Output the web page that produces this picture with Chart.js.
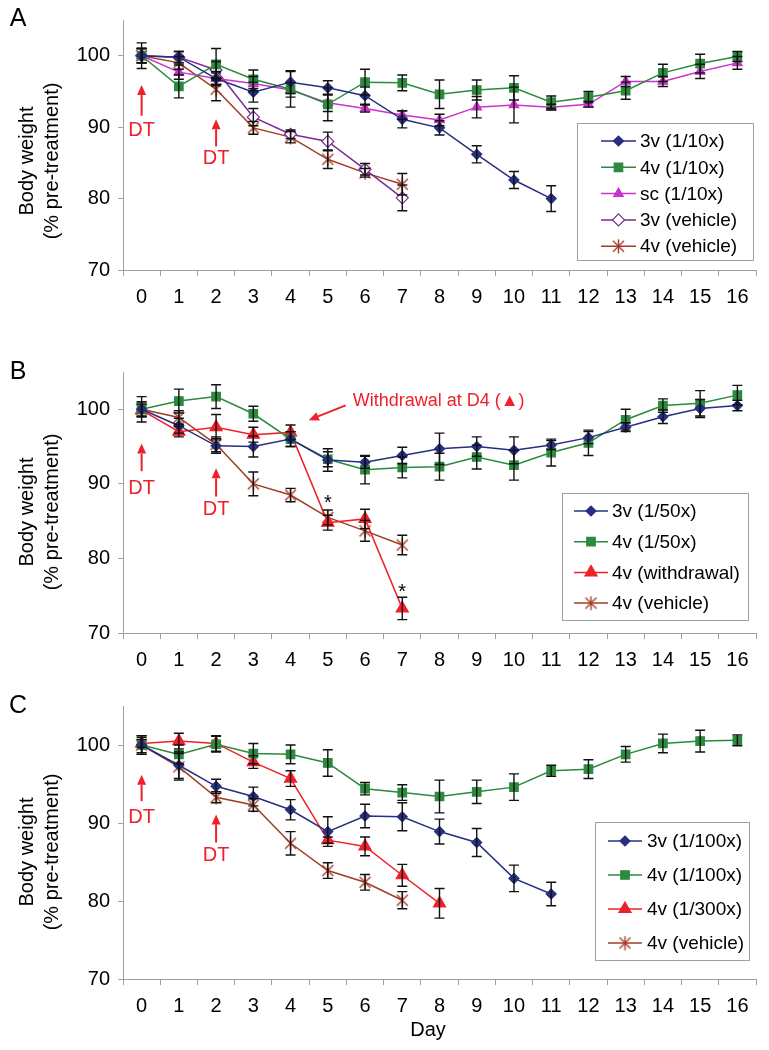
<!DOCTYPE html>
<html>
<head>
<meta charset="utf-8">
<script src="https://cdn.jsdelivr.net/npm/chart.js@4.4.1/dist/chart.umd.min.js"></script>
<style>
  body { margin: 0; background: #fff; width: 769px; height: 1050px; position: relative; overflow: hidden; }
  .panel { position: absolute; left: 0; width: 769px; }
</style>
</head>
<body>
<div class="panel" style="top:0;height:330px"><canvas id="panelA" width="769" height="330"></canvas></div>
<div class="panel" style="top:340px;height:340px"><canvas id="panelB" width="769" height="340"></canvas></div>
<div class="panel" style="top:680px;height:370px"><canvas id="panelC" width="769" height="370"></canvas></div>
<script>
// ---- data ----
const days = ['0','1','2','3','4','5','6','7','8','9','10','11','12','13','14','15','16'];
const yTicks = [70, 80, 90, 100];

// Panel A
const a3v10     = [100, 99.8, 96.8, 94.9, 96.3, 95.5, 94.4, 91.1, 89.9, 86.2, 82.6, 80.0];
const a3v10Err  = [1.8, 0.8, 0.8, 1.4, 1.6, 1.0, 1.2, 1.2, 1.0, 1.2, 1.2, 1.8];
const a4v10     = [100, 95.7, 98.8, 96.7, 95.3, 93.2, 96.3, 96.2, 94.6, 95.2, 95.5, 93.5, 94.2, 95.1, 97.6, 98.9, 99.9];
const a4v10Err  = [1.0, 1.6, 2.2, 1.3, 2.5, 2.3, 1.8, 1.1, 2.0, 1.4, 1.7, 0.85, 0.8, 1.2, 1.2, 1.3, 0.7];
const aSc10     = [100, 97.7, 96.8, 96.1, 95.2, 93.4, 92.6, 91.7, 91.0, 92.8, 93.1, 92.8, 93.2, 96.4, 96.4, 97.8, 99.0];
const aSc10Err  = [1.0, 1.0, 1.0, 1.0, 1.0, 1.2, 0.5, 0.6, 0.8, 1.5, 2.5, 0.4, 0.4, 0.7, 0.7, 1.0, 0.9];
const a3vVeh    = [100, 99.8, 98.0, 91.4, 89.0, 88.0, 84.1, 80.1];
const a3vVehErr = [1.0, 0.8, 1.2, 1.2, 0.6, 1.3, 0.8, 1.8];
const a4vVeh    = [100, 99.0, 95.3, 89.9, 88.6, 85.5, 83.6, 82.0];
const a4vVehErr = [1.0, 0.9, 1.6, 0.9, 0.8, 1.3, 0.6, 1.5];

// Panel B
const b3v50       = [100, 97.8, 95.1, 95.0, 96.0, 93.2, 92.9, 93.8, 94.7, 95.0, 94.5, 95.2, 96.2, 97.6, 99.0, 100.1, 100.5];
const b3v50Err    = [1.7, 1.0, 1.0, 1.4, 1.0, 1.5, 0.8, 1.1, 2.1, 1.3, 1.8, 0.6, 0.8, 0.6, 0.9, 1.2, 0.7];
const b4v50       = [100, 101.1, 101.7, 99.4, 96.0, 93.3, 91.9, 92.2, 92.3, 93.6, 92.5, 94.2, 95.5, 98.6, 100.5, 100.8, 101.9];
const b4v50Err    = [1.0, 1.6, 1.6, 1.0, 1.0, 1.0, 1.9, 1.4, 1.8, 1.6, 2.0, 1.8, 1.7, 1.4, 0.9, 1.7, 1.3];
const bWithdraw   = [99.9, 97.0, 97.6, 96.6, 96.9, 84.8, 85.3, 73.3];
const bWithdrawErr= [0.8, 0.7, 1.7, 1.0, 1.0, 1.0, 1.3, 1.5];
const bVeh        = [100, 98.9, 95.3, 90.0, 88.5, 85.5, 83.7, 81.8];
const bVehErr     = [1.0, 0.9, 1.0, 1.6, 0.9, 1.0, 1.4, 1.3];

// Panel C
const c3v100    = [100, 97.4, 94.7, 93.4, 91.7, 88.9, 90.9, 90.8, 88.9, 87.5, 82.9, 80.9];
const c3v100Err = [1.2, 1.7, 0.9, 1.2, 1.3, 1.9, 1.5, 1.8, 1.6, 1.8, 1.7, 1.5];
const c4v100    = [100, 98.8, 100.1, 98.9, 98.8, 97.7, 94.4, 93.9, 93.4, 94.0, 94.6, 96.7, 96.9, 98.8, 100.2, 100.5, 100.6];
const c4v100Err = [1.2, 1.2, 1.0, 1.3, 1.2, 1.7, 0.8, 1.0, 2.1, 1.5, 1.7, 0.7, 1.2, 1.0, 1.2, 1.4, 0.7];
const c4v300    = [100.2, 100.5, 100.2, 97.8, 95.7, 87.8, 87.0, 83.3, 79.7];
const c4v300Err = [0.5, 1.0, 1.0, 0.8, 1.0, 0.4, 1.2, 1.4, 1.9];
const cVeh      = [100, 97.2, 93.3, 92.3, 87.4, 83.9, 82.4, 80.1];
const cVehErr   = [1.0, 1.7, 0.7, 0.8, 1.5, 1.0, 1.0, 1.1];

// ---- styling ----
const FONT = '"Liberation Sans", Arial, sans-serif';
const NAVY = '#262f80', GREEN = '#2b8a3e', MAGENTA = '#cc33cc', PURPLE = '#7a2b96', BROWN = '#a23c25', RED = '#f0202a';
const AXIS = '#a0a0a0';

// Excel-style star marker: an X with a vertical stroke
function starMark(color) {
  const c = document.createElement('canvas');
  c.width = c.height = 15;
  const g = c.getContext('2d');
  g.strokeStyle = color; g.lineWidth = 1.4;
  g.beginPath();
  g.moveTo(2, 2); g.lineTo(13, 13);
  g.moveTo(13, 2); g.lineTo(2, 13);
  g.moveTo(7.5, 0.5); g.lineTo(7.5, 14.5);
  g.stroke();
  return c;
}
const brownStar = starMark(BROWN);

function series(label, data, errors, color, style, radius, fill) {
  return {
    label, data, errors,
    borderColor: color, backgroundColor: color, borderWidth: 1.5,
    pointStyle: style, pointRadius: radius, pointHoverRadius: radius,
    pointBackgroundColor: fill || color, pointBorderColor: color, pointBorderWidth: 1.2,
    tension: 0, spanGaps: false
  };
}

function arrow(ctx, x0, y0, x1, y1) {
  const ang = Math.atan2(y1 - y0, x1 - x0), len = 10, hw = 4.5;
  const bx = x1 - Math.cos(ang) * len, by = y1 - Math.sin(ang) * len;
  ctx.beginPath(); ctx.moveTo(x0, y0); ctx.lineTo(bx, by); ctx.stroke();
  ctx.beginPath();
  ctx.moveTo(x1, y1);
  ctx.lineTo(bx - Math.sin(ang) * hw, by + Math.cos(ang) * hw);
  ctx.lineTo(bx + Math.sin(ang) * hw, by - Math.cos(ang) * hw);
  ctx.closePath(); ctx.fill();
}

function decor(p) {
  return {
    id: 'decor',
    afterDatasetsDraw(chart) {
      // error bars
      const { ctx, scales: { y } } = chart;
      ctx.save();
      ctx.strokeStyle = '#111'; ctx.lineWidth = 1.4;
      chart.data.datasets.forEach((ds, i) => {
        chart.getDatasetMeta(i).data.forEach((pt, j) => {
          const v = ds.data[j], e = ds.errors[j];
          if (v == null || e == null) return;
          const t = y.getPixelForValue(v + e), b = y.getPixelForValue(v - e);
          ctx.beginPath();
          ctx.moveTo(pt.x, t); ctx.lineTo(pt.x, b);
          ctx.moveTo(pt.x - 5, t); ctx.lineTo(pt.x + 5, t);
          ctx.moveTo(pt.x - 5, b); ctx.lineTo(pt.x + 5, b);
          ctx.stroke();
        });
      });
      ctx.restore();
    },
    afterDraw(chart) {
      const { ctx, scales: { x, y } } = chart;
      ctx.save();
      ctx.fillStyle = '#000';
      ctx.textAlign = 'center'; ctx.textBaseline = 'middle';
      ctx.font = '25px ' + FONT;
      ctx.fillText(p.letter, 18, p.letterY);

      ctx.font = '20px ' + FONT;
      [['Body weight', 27], ['(% pre-treatment)', 52]].forEach(([t, tx]) => {
        ctx.save(); ctx.translate(tx, p.titleY); ctx.rotate(-Math.PI / 2);
        ctx.fillText(t, 0, 0); ctx.restore();
      });
      if (p.xTitle) ctx.fillText(p.xTitle.text, p.xTitle.x, p.xTitle.y);

      // DT arrows
      ctx.fillStyle = RED; ctx.strokeStyle = RED; ctx.lineWidth = 2;
      p.dt.forEach(d => {
        const px = x.getPixelForValue(d.day);
        arrow(ctx, px, y.getPixelForValue(d.tail), px, y.getPixelForValue(d.tip));
        ctx.fillText('DT', px, y.getPixelForValue(d.text));
      });
      if (p.note) {
        const n = p.note;
        ctx.font = '18px ' + FONT; ctx.textAlign = 'left';
        ctx.fillText(n.text, x.getPixelForValue(n.day), y.getPixelForValue(n.value));
        arrow(ctx, x.getPixelForValue(n.from[0]), y.getPixelForValue(n.from[1]),
                   x.getPixelForValue(n.to[0]), y.getPixelForValue(n.to[1]));
      }
      if (p.stars) {
        ctx.fillStyle = '#000'; ctx.font = '20px ' + FONT; ctx.textAlign = 'center'; ctx.textBaseline = 'alphabetic';
        p.stars.forEach(s => ctx.fillText('*', x.getPixelForValue(s.day), y.getPixelForValue(s.value) + 11));
      }

      // legend box
      const L = p.legend;
      ctx.strokeStyle = AXIS; ctx.lineWidth = 1;
      ctx.strokeRect(L.x + 0.5, L.y + 0.5, L.w, L.h);
      ctx.font = '19px ' + FONT; ctx.textAlign = 'left'; ctx.textBaseline = 'middle';
      chart.data.datasets.forEach((ds, i) => {
        const ry = L.y0 + i * L.dy;
        ctx.strokeStyle = ds.borderColor; ctx.lineWidth = 1.5;
        ctx.beginPath(); ctx.moveTo(L.lx0, ry); ctx.lineTo(L.lx1, ry); ctx.stroke();
        ctx.fillStyle = ds.pointBackgroundColor; ctx.strokeStyle = ds.pointBorderColor; ctx.lineWidth = ds.pointBorderWidth;
        Chart.helpers.drawPoint(ctx, { pointStyle: ds.pointStyle, radius: ds.pointRadius, rotation: 0, borderWidth: ds.pointBorderWidth },
          (L.lx0 + L.lx1) / 2, ry);
        ctx.fillStyle = '#000';
        ctx.fillText(ds.label, L.tx, ry + 1);
      });
      ctx.restore();
    }
  };
}

function makePanel(id, datasets, p) {
  return new Chart(document.getElementById(id), {
    type: 'line',
    data: { labels: days, datasets },
    options: {
      responsive: false, animation: false, devicePixelRatio: 1,
      layout: { padding: { top: p.padTop, left: 0, right: 13, bottom: 0 } },
      plugins: { legend: { display: false }, tooltip: { enabled: false } },
      scales: {
        x: {
          type: 'category', offset: true,
          grid: { offset: true, drawOnChartArea: false, tickLength: 6, color: AXIS },
          border: { color: AXIS },
          ticks: { color: '#000', font: { family: FONT, size: 20 }, padding: 9, autoSkip: false, maxRotation: 0 },
          afterFit: s => { s.height = p.xHeight; }
        },
        y: {
          min: 70, max: 105,
          grid: { drawOnChartArea: false, tickLength: 5, color: AXIS },
          border: { color: AXIS },
          ticks: { color: '#000', font: { family: FONT, size: 20 }, padding: 8 },
          afterBuildTicks: s => { s.ticks = yTicks.map(v => ({ value: v })); },
          afterFit: s => { s.width = 123; }
        }
      }
    },
    plugins: [decor(p)]
  });
}

makePanel('panelA', [
  series('3v (1/10x)', a3v10, a3v10Err, NAVY, 'rectRot', 5),
  series('4v (1/10x)', a4v10, a4v10Err, GREEN, 'rect', 6),
  series('sc (1/10x)', aSc10, aSc10Err, MAGENTA, 'triangle', 5.5),
  series('3v (vehicle)', a3vVeh, a3vVehErr, PURPLE, 'rectRot', 6, '#ffffff'),
  series('4v (vehicle)', a4vVeh, a4vVehErr, BROWN, brownStar, 6)
], {
  letter: 'A', letterY: 19, titleY: 161, padTop: 8, xHeight: 60,
  dt: [{ day: 0, tip: 95.9, tail: 91.6, text: 89.5 }, { day: 2, tip: 91.1, tail: 87.3, text: 85.6 }],
  legend: { x: 577, y: 123, w: 176, h: 137, y0: 141, dy: 26.3, lx0: 601, lx1: 636, tx: 640 }
});

makePanel('panelB', [
  series('3v (1/50x)', b3v50, b3v50Err, NAVY, 'rectRot', 5),
  series('4v (1/50x)', b4v50, b4v50Err, GREEN, 'rect', 6),
  series('4v (withdrawal)', bWithdraw, bWithdrawErr, RED, 'triangle', 7),
  series('4v (vehicle)', bVeh, bVehErr, BROWN, brownStar, 6)
], {
  letter: 'B', letterY: 32, titleY: 172, padTop: 32, xHeight: 47,
  dt: [{ day: 0, tip: 95.4, tail: 91.7, text: 89.4 }, { day: 2, tip: 92.1, tail: 88.3, text: 86.6 }],
  note: { text: 'Withdrawal at D4 (\u25B2)', day: 5.67, value: 101.06, from: [5.48, 100.53], to: [4.49, 98.54] },
  stars: [{ day: 5, value: 88.1 }, { day: 7, value: 76.2 }],
  legend: { x: 562, y: 153, w: 186, h: 127, y0: 171, dy: 30.7, lx0: 574, lx1: 608, tx: 612 }
});

makePanel('panelC', [
  series('3v (1/100x)', c3v100, c3v100Err, NAVY, 'rectRot', 5),
  series('4v (1/100x)', c4v100, c4v100Err, GREEN, 'rect', 6),
  series('4v (1/300x)', c4v300, c4v300Err, RED, 'triangle', 7),
  series('4v (vehicle)', cVeh, cVehErr, BROWN, brownStar, 6)
], {
  letter: 'C', letterY: 26, titleY: 172, padTop: 26, xHeight: 71,
  xTitle: { text: 'Day', x: 428, y: 350 },
  dt: [{ day: 0, tip: 96.2, tail: 92.8, text: 90.7 }, { day: 2, tip: 91.1, tail: 87.5, text: 85.8 }],
  legend: { x: 595, y: 142, w: 154, h: 138, y0: 161, dy: 34, lx0: 608, lx1: 642, tx: 647 }
});
</script>
</body>
</html>
